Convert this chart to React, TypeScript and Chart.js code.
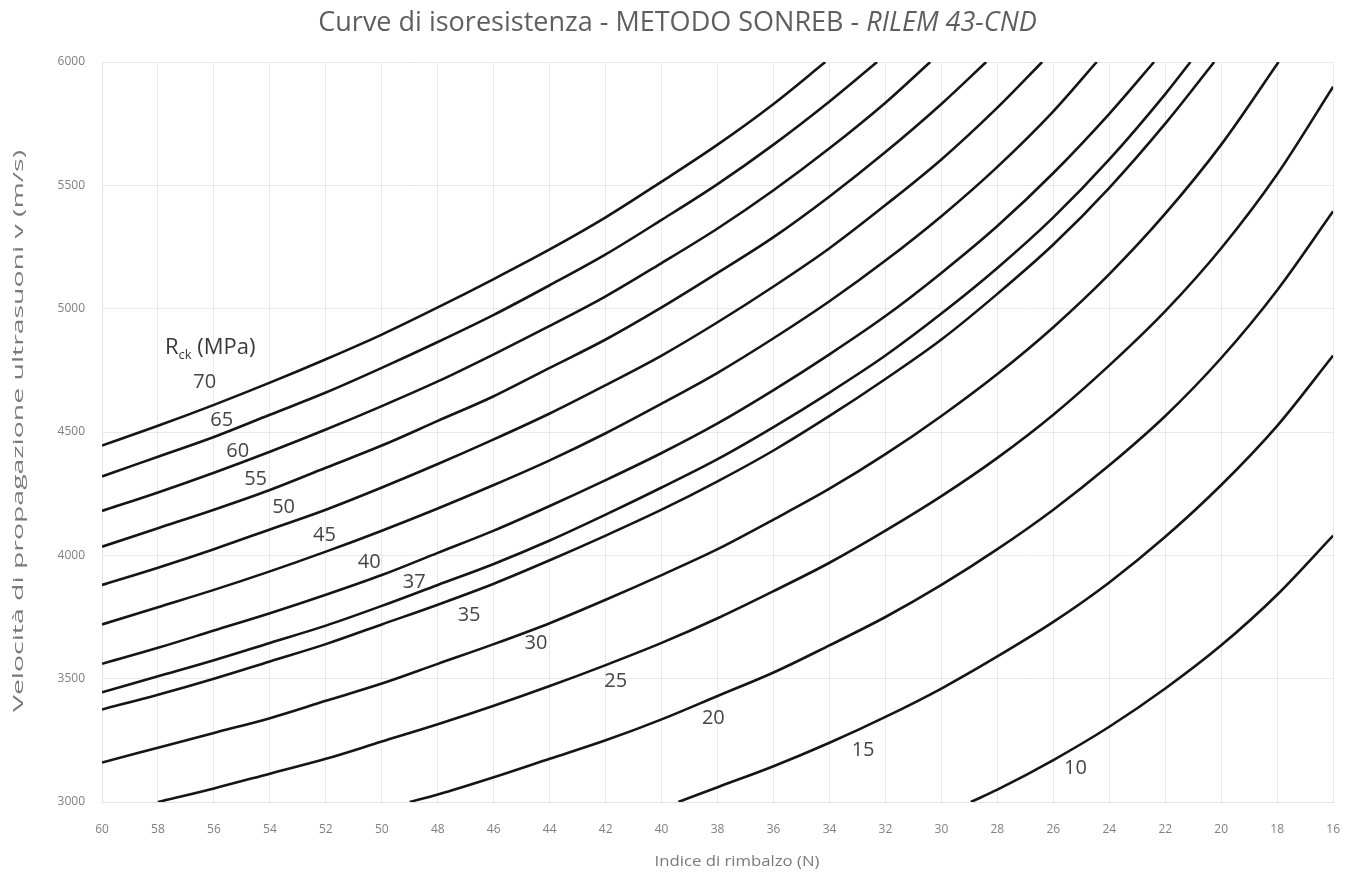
import React, { useEffect, useRef } from "react";
import { Chart, registerables } from "chart.js";

Chart.register(...registerables);

// ---- text ----
const TITLE_MAIN = "Curve di isoresistenza - METODO SONREB - ";
const TITLE_ITALIC = "RILEM 43-CND";
const X_TITLE = "Indice di rimbalzo (N)";
const Y_TITLE = "Velocità di propagazione ultrasuoni v (m/s)";
const LEGEND_R = "R";
const LEGEND_SUB = "ck";
const LEGEND_UNIT = " (MPa)";

// ---- axes ----
const X_MIN = 16;
const X_MAX = 60;
const X_STEP = 2;
const Y_MIN = 3000;
const Y_MAX = 6000;
const Y_STEP = 500;

// ---- curves: [rebound index N, velocity m/s] ----
const STRENGTHS = [70, 65, 60, 55, 50, 45, 40, 37, 35, 30, 25, 20, 15, 10];

const R70: [number, number][] = [[60, 4445], [58, 4525], [56, 4610], [54, 4700], [52, 4795], [50, 4895], [48, 5005], [46, 5120], [44, 5240], [42, 5370], [40, 5515], [38, 5665], [36, 5830], [34.15, 6000]];
const R65: [number, number][] = [[60, 4320], [58, 4400], [56, 4480], [54, 4570], [52, 4660], [50, 4760], [48, 4865], [46, 4975], [44, 5095], [42, 5220], [40, 5360], [38, 5505], [36, 5665], [34, 5840], [32.3, 6000]];
const R60: [number, number][] = [[60, 4180], [58, 4255], [56, 4335], [54, 4420], [52, 4510], [50, 4605], [48, 4705], [46, 4815], [44, 4930], [42, 5050], [40, 5185], [38, 5325], [36, 5480], [34, 5650], [32, 5835], [30.4, 6000]];
const R55: [number, number][] = [[60, 4035], [58, 4110], [56, 4185], [54, 4265], [52, 4355], [50, 4445], [48, 4545], [46, 4645], [44, 4760], [42, 4875], [40, 5005], [38, 5145], [36, 5290], [34, 5455], [32, 5635], [30, 5830], [28.4, 6000]];
const R50: [number, number][] = [[60, 3880], [58, 3950], [56, 4025], [54, 4105], [52, 4185], [50, 4275], [48, 4370], [46, 4470], [44, 4575], [42, 4690], [40, 4810], [38, 4945], [36, 5090], [34, 5245], [32, 5420], [30, 5605], [28, 5815], [26.4, 6000]];
const R45: [number, number][] = [[60, 3720], [58, 3790], [56, 3860], [54, 3935], [52, 4015], [50, 4100], [48, 4190], [46, 4285], [44, 4385], [42, 4495], [40, 4615], [38, 4740], [36, 4880], [34, 5030], [32, 5195], [30, 5375], [28, 5575], [26, 5800], [24.45, 6000]];
const R40: [number, number][] = [[60, 3560], [58, 3625], [56, 3695], [54, 3765], [52, 3840], [50, 3920], [48, 4010], [46, 4100], [44, 4200], [42, 4305], [40, 4415], [38, 4535], [36, 4670], [34, 4815], [32, 4970], [30, 5145], [28, 5335], [26, 5550], [24, 5790], [22.4, 6000]];
const R37: [number, number][] = [[60, 3445], [58, 3510], [56, 3575], [54, 3645], [52, 3715], [50, 3795], [48, 3880], [46, 3965], [44, 4060], [42, 4165], [40, 4275], [38, 4390], [36, 4520], [34, 4660], [32, 4810], [30, 4980], [28, 5165], [26, 5370], [24, 5605], [22, 5870], [21.1, 6000]];
const R35: [number, number][] = [[60, 3375], [58, 3435], [56, 3500], [54, 3570], [52, 3640], [50, 3720], [48, 3800], [46, 3885], [44, 3980], [42, 4080], [40, 4185], [38, 4300], [36, 4425], [34, 4565], [32, 4715], [30, 4875], [28, 5060], [26, 5260], [24, 5490], [22, 5750], [20.25, 6000]];
const R30: [number, number][] = [[60, 3160], [58, 3220], [56, 3280], [54, 3340], [52, 3410], [50, 3480], [48, 3560], [46, 3640], [44, 3725], [42, 3820], [40, 3920], [38, 4025], [36, 4145], [34, 4270], [32, 4410], [30, 4565], [28, 4735], [26, 4925], [24, 5140], [22, 5385], [20, 5665], [17.95, 6000]];
const R25: [number, number][] = [[58, 3000], [56, 3055], [54, 3115], [52, 3175], [50, 3245], [48, 3315], [46, 3390], [44, 3470], [42, 3555], [40, 3645], [38, 3745], [36, 3855], [34, 3970], [32, 4100], [30, 4240], [28, 4395], [26, 4570], [24, 4770], [22, 4990], [20, 5245], [18, 5545], [16, 5900]];
const R20: [number, number][] = [[49, 3000], [48, 3030], [46, 3100], [44, 3175], [42, 3250], [40, 3335], [38, 3430], [36, 3525], [34, 3635], [32, 3750], [30, 3880], [28, 4025], [26, 4185], [24, 4365], [22, 4565], [20, 4800], [18, 5075], [16, 5395]];
const R15: [number, number][] = [[39.4, 3000], [38, 3060], [36, 3145], [34, 3240], [32, 3345], [30, 3460], [28, 3590], [26, 3730], [24, 3890], [22, 4075], [20, 4285], [18, 4525], [16, 4810]];
const R10: [number, number][] = [[28.95, 3000], [28, 3050], [26, 3170], [24, 3305], [22, 3460], [20, 3635], [18, 3840], [16, 4080]];

const SERIES = [R70, R65, R60, R55, R50, R45, R40, R37, R35, R30, R25, R20, R15, R10];

// anchor (N, v) where each strength label is written
const LABEL_N = [56.33, 55.72, 55.15, 54.51, 53.51, 52.05, 50.45, 48.84, 46.88, 44.49, 41.64, 38.15, 32.8, 25.21];
const LABEL_V = [4703, 4549, 4423, 4309, 4196, 4082, 3973, 3892, 3758, 3645, 3491, 3341, 3211, 3138];
const LEGEND_N = 57.75;
const LEGEND_V = 4840;

const FAMILY = '"Open Sans", "DejaVu Sans", sans-serif';

const textPlugin = {
  id: "sonrebTexts",
  afterDraw(chart: any) {
    const ctx: CanvasRenderingContext2D = chart.ctx;
    const xs = chart.scales.x;
    const ys = chart.scales.y;
    ctx.save();

    // Title (mixed upright / italic), fitted to the reference width
    const base = 22;
    ctx.font = `${base}px ${FAMILY}`;
    const w1 = ctx.measureText(TITLE_MAIN).width;
    ctx.font = `italic ${base}px ${FAMILY}`;
    const w2 = ctx.measureText(TITLE_ITALIC).width;
    const size = (base * 719) / (w1 + w2);
    ctx.font = `${size}px ${FAMILY}`;
    const a = ctx.measureText(TITLE_MAIN).width;
    ctx.font = `italic ${size}px ${FAMILY}`;
    const b = ctx.measureText(TITLE_ITALIC).width;
    const startX = 677.5 - (a + b) / 2;
    ctx.fillStyle = "#5f5f5f";
    ctx.textBaseline = "middle";
    ctx.textAlign = "left";
    ctx.font = `${size}px ${FAMILY}`;
    ctx.fillText(TITLE_MAIN, startX, 23);
    ctx.font = `italic ${size}px ${FAMILY}`;
    ctx.fillText(TITLE_ITALIC, startX + a, 23);

    // X axis title
    ctx.fillStyle = "#7a7a7a";
    ctx.font = `15px ${FAMILY}`;
    const wx = ctx.measureText(X_TITLE).width;
    ctx.save();
    ctx.translate(737, 862);
    ctx.scale(165 / wx, 1);
    ctx.textAlign = "center";
    ctx.fillText(X_TITLE, 0, 0);
    ctx.restore();

    // Y axis title (rotated)
    ctx.font = `14px ${FAMILY}`;
    const wy = ctx.measureText(Y_TITLE).width;
    ctx.save();
    ctx.translate(19, 431);
    ctx.rotate(-Math.PI / 2);
    ctx.scale(562 / wy, 1);
    ctx.textAlign = "center";
    ctx.fillText(Y_TITLE, 0, 0);
    ctx.restore();

    // Legend heading R_ck (MPa)
    const lx = xs.getPixelForValue(LEGEND_N);
    const ly = ys.getPixelForValue(LEGEND_V);
    ctx.fillStyle = "#3a3a3a";
    ctx.textAlign = "left";
    ctx.font = `22px ${FAMILY}`;
    ctx.fillText(LEGEND_R, lx, ly);
    const wr = ctx.measureText(LEGEND_R).width;
    ctx.font = `13px ${FAMILY}`;
    ctx.fillText(LEGEND_SUB, lx + wr, ly + 7);
    const ws = ctx.measureText(LEGEND_SUB).width;
    ctx.font = `22px ${FAMILY}`;
    ctx.fillText(LEGEND_UNIT, lx + wr + ws, ly);

    // Strength labels
    ctx.fillStyle = "#454545";
    ctx.textAlign = "center";
    ctx.font = `20px ${FAMILY}`;
    STRENGTHS.forEach((r, i) => {
      ctx.fillText(String(r), xs.getPixelForValue(LABEL_N[i]), ys.getPixelForValue(LABEL_V[i]));
    });

    ctx.restore();
  },
};

export default function App() {
  const ref = useRef<HTMLCanvasElement | null>(null);

  useEffect(() => {
    if (!ref.current) return;
    const datasets = SERIES.map((pts, i) => ({
      label: `${STRENGTHS[i]}`,
      data: pts.map(([x, y]) => ({ x, y })),
      borderColor: "#151515",
      backgroundColor: "#151515",
      borderWidth: 2.6,
      pointRadius: 0,
      fill: false,
      cubicInterpolationMode: "monotone" as const,
      clip: 0,
    }));

    const chart = new Chart(ref.current, {
      type: "line",
      data: { datasets },
      options: {
        animation: false,
        responsive: false,
        events: [],
        layout: { padding: { top: 62, right: 21, left: 0, bottom: 0 } },
        plugins: {
          legend: { display: false },
          tooltip: { enabled: false },
          title: { display: false },
        },
        scales: {
          x: {
            type: "linear",
            reverse: true,
            min: X_MIN,
            max: X_MAX,
            afterFit: (s: any) => {
              s.height = 78;
            },
            ticks: {
              stepSize: X_STEP,
              color: "#7f7f7f",
              font: { family: FAMILY, size: 12 },
              padding: 20,
              maxRotation: 0,
              autoSkip: false,
              callback: (v: any) => String(v),
            },
            grid: { color: "#e9e9e9", lineWidth: 1, drawTicks: false },
            border: { color: "#e3e3e3", width: 1 },
          },
          y: {
            type: "linear",
            min: Y_MIN,
            max: Y_MAX,
            afterFit: (s: any) => {
              s.width = 102;
            },
            ticks: {
              stepSize: Y_STEP,
              color: "#7f7f7f",
              font: { family: FAMILY, size: 12 },
              padding: 17,
              callback: (v: any) => String(v),
            },
            grid: { color: "#e9e9e9", lineWidth: 1, drawTicks: false },
            border: { color: "#e3e3e3", width: 1 },
          },
        },
      },
      plugins: [textPlugin],
    });
    return () => chart.destroy();
  }, []);

  return (
    <div style={{ position: "absolute", left: 0, top: 0, width: 1360, height: 880, background: "#ffffff" }}>
      <canvas ref={ref} width={1360} height={880} style={{ width: 1360, height: 880, display: "block" }} />
    </div>
  );
}
